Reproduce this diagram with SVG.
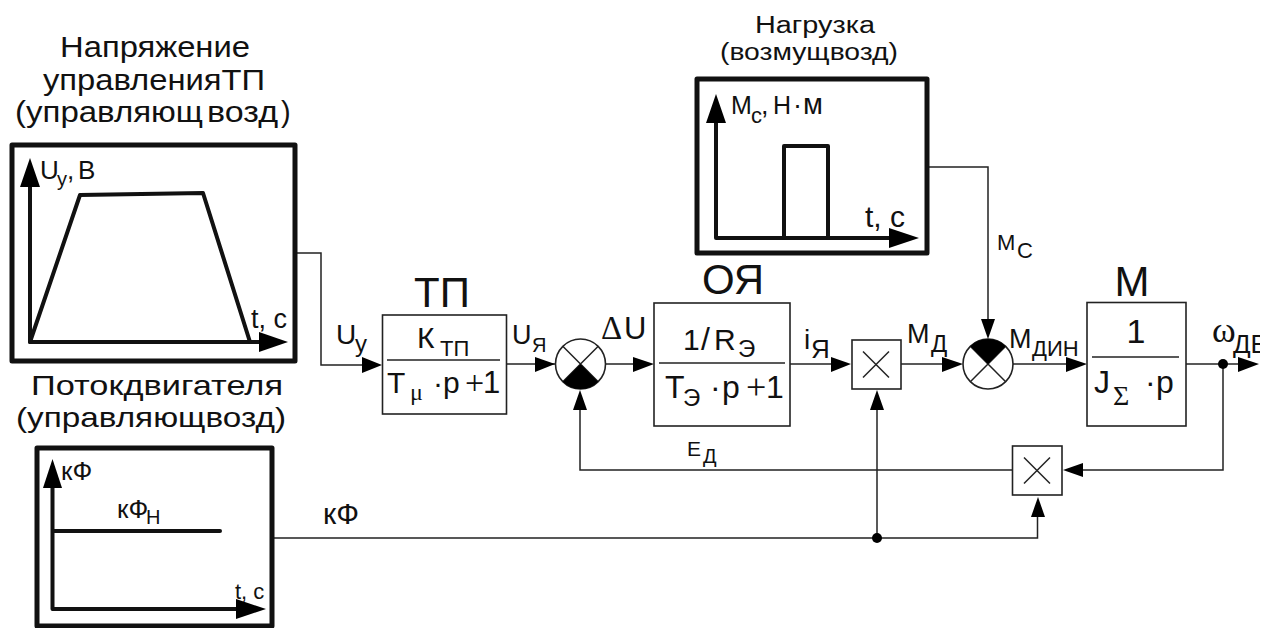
<svg xmlns="http://www.w3.org/2000/svg" width="1277" height="628" viewBox="0 0 1277 628">
<style>
text{font-family:"Liberation Sans",Arial,sans-serif;fill:#111}
.s{font-family:"Liberation Serif","Times New Roman",serif}
.m{text-anchor:middle}
.f{fill:none;stroke:#111;stroke-width:5;stroke-linejoin:round}
.g{fill:none;stroke:#111;stroke-width:4;stroke-linejoin:round;stroke-linecap:round}
.b{fill:#fff;stroke:#222;stroke-width:1.6}
.l{fill:none;stroke:#222;stroke-width:1.5}
.k{fill:#000;stroke:none}
</style>
<defs>
<clipPath id="edge"><rect x="0" y="0" width="1260" height="628"/></clipPath>
</defs>
<rect width="1277" height="628" fill="#fff"/>

<g id="connectors">
<path class="l" d="M297 253H321V365H364"/><polygon class="k" points="382,365 362,357 362,373"/>
<path class="l" d="M506 364H560"/><polygon class="k" points="555,364 535,357 535,372"/>
<path class="l" d="M605 364H636"/><polygon class="k" points="654,364 633,357 633,372"/>
<path class="l" d="M790 364H835"/><polygon class="k" points="851,364 831,357 831,372"/>
<path class="l" d="M901 364H945"/><polygon class="k" points="963,364 942,357 942,372"/>
<path class="l" d="M1013 364H1070"/><polygon class="k" points="1087,364 1066,357 1066,372"/>
<path class="l" d="M1186 364H1242"/><polygon class="k" points="1259,364 1238,357 1238,372"/>
<path class="l" d="M928 167H988V322"/><polygon class="k" points="988,339 981,319 995,319"/>
<path class="l" d="M1223 364V470H1080"/><polygon class="k" points="1063,470 1083,463 1083,477"/>
<path class="l" d="M1012 470H580V408"/><polygon class="k" points="580,390 573,410 587,410"/>
<path class="l" d="M273 538H1037.500V515"/><polygon class="k" points="1038,497 1031,517 1045,517"/>
<path class="l" d="M877 538V408"/><polygon class="k" points="877,390 870,410 884,410"/>
<circle class="k" cx="877" cy="538" r="5"/>
<circle class="k" cx="1223" cy="364" r="5"/>
</g>

<g id="voltage-plot">
<text x="60" y="57" font-size="29" textLength="190" lengthAdjust="spacingAndGlyphs">Напряжение</text>
<text x="43" y="90" font-size="29" textLength="222" lengthAdjust="spacingAndGlyphs">управленияТП</text>
<text x="15" y="122" font-size="29" textLength="188" lengthAdjust="spacingAndGlyphs">(управляющ</text><text x="207" y="122" font-size="29" textLength="71" lengthAdjust="spacingAndGlyphs">возд</text><text x="281" y="122" font-size="29">)</text>
<rect class="f" x="12" y="145" width="283" height="216"/>
<path class="g" d="M30 342V180M30 342H265"/>
<polygon class="k" points="30,158 20,187 40,187"/>
<polygon class="k" points="288,342 259,332 259,352"/>
<path class="g" d="M30 342L80 195L203 193L250 342"/>
<text x="40" y="179" font-size="26">U</text><text x="57" y="186" font-size="20">y</text><text x="67" y="179" font-size="26">,</text><text x="78" y="179" font-size="26">В</text>
<text x="251" y="328" font-size="27">t, c</text>
</g>

<g id="flux-plot">
<text x="31" y="395" font-size="28" textLength="252" lengthAdjust="spacingAndGlyphs">Потокдвигателя</text>
<text x="16" y="427" font-size="28" textLength="270" lengthAdjust="spacingAndGlyphs">(управляющвозд)</text>
<rect class="f" x="37" y="448" width="235" height="178"/>
<path class="g" d="M52.500 609V480M52.500 609H245"/>
<polygon class="k" points="52.500,459 43,488 62,488"/>
<polygon class="k" points="266,609 236,599 236,619"/>
<path class="g" d="M53 531H220"/>
<text x="61" y="480" font-size="26">кФ</text>
<text x="117" y="518" font-size="26">кФ</text><text x="146" y="524" font-size="20">Н</text>
<text x="235" y="599" font-size="22">t, c</text>
</g>

<g id="load-plot">
<text x="755" y="33" font-size="23" textLength="120" lengthAdjust="spacingAndGlyphs">Нагрузка</text>
<text x="720" y="60" font-size="23" textLength="178" lengthAdjust="spacingAndGlyphs">(возмущвозд)</text>
<rect class="f" x="697" y="79" width="230" height="174"/>
<path class="g" d="M716 238V120M716 238H895"/>
<polygon class="k" points="716,94 706,123 726,123"/>
<polygon class="k" points="919,238 889,228 889,248"/>
<path class="g" d="M784 238V146H828V238"/>
<text x="731" y="114" font-size="25">М</text><text x="751" y="123" font-size="22">с</text><text x="761" y="114" font-size="27">,</text><text x="773" y="114" font-size="25">Н</text><text x="793" y="114" font-size="27">·</text><text x="803" y="114" font-size="29">м</text>
<text x="865" y="227" font-size="30">t, c</text>
</g>

<g id="tp">
<text class="m" x="442" y="307" font-size="42">ТП</text>
<rect class="b" x="382.500" y="315" width="124" height="99"/>
<path class="l" d="M387 360H500"/>
<text x="417" y="348" font-size="30">К</text><text x="440" y="356" font-size="22">ТП</text>
<text x="387" y="393" font-size="30">Т</text><text class="s" x="410" y="400" font-size="24">μ</text>
<text x="433" y="393" font-size="30">·</text><text x="443" y="393" font-size="30">p</text><text class="s" x="465" y="394" font-size="34">+</text><text x="483" y="393" font-size="31">1</text>
</g>

<g id="sum1">
<circle class="b" cx="580.500" cy="364" r="25"/>
<path class="l" d="M562.800 346.300L598.200 381.700M598.200 346.300L562.800 381.700"/>
<path class="k" d="M580.500 364L562.800 381.700A25 25 0 0 0 598.200 381.700Z"/>
</g>

<g id="oya">
<text class="m" x="733" y="294" font-size="42">ОЯ</text>
<rect class="b" x="654" y="303" width="136" height="123"/>
<path class="l" d="M659 363H785"/>
<text x="683" y="350" font-size="30">1</text><text x="701" y="350" font-size="32">/</text><text x="714" y="350" font-size="30">R</text><text x="738" y="357" font-size="24">Э</text>
<text x="665" y="398" font-size="32">Т</text><text x="683" y="406" font-size="24">Э</text>
<text x="710" y="398" font-size="32">·</text><text x="722" y="398" font-size="32">p</text><text class="s" x="746" y="399" font-size="36">+</text><text x="766" y="398" font-size="32">1</text>
</g>

<g id="mult1">
<rect class="b" x="852" y="340" width="49" height="49"/>
<path class="l" d="M863 351.500L889 377.500M889 351.500L863 377.500"/>
</g>

<g id="sum2">
<circle class="b" cx="988" cy="364" r="25"/>
<path class="l" d="M970.300 346.300L1005.700 381.700M1005.700 346.300L970.300 381.700"/>
<path class="k" d="M988 364L970.300 346.300A25 25 0 0 1 1005.700 346.300Z"/>
</g>

<g id="m-block">
<text class="m" x="1132" y="296" font-size="42">М</text>
<rect class="b" x="1087" y="302.500" width="99" height="123.500"/>
<path class="l" d="M1092 357H1179"/>
<text class="m" x="1136" y="343" font-size="34">1</text>
<text x="1094" y="393" font-size="32">J</text><text class="s" x="1113" y="405" font-size="28">Σ</text>
<text x="1145" y="393" font-size="32">·</text><text x="1156" y="393" font-size="32">p</text>
</g>

<g id="mult2">
<rect class="b" x="1012.500" y="446" width="49.500" height="49"/>
<path class="l" d="M1024 457.500L1050 483.500M1050 457.500L1024 483.500"/>
</g>

<g id="labels">
<text x="336" y="344" font-size="28">U</text><text x="355" y="352" font-size="24">y</text>
<text x="512" y="344" font-size="27">U</text><text x="532" y="352" font-size="20">Я</text>
<text class="s" x="601" y="339" font-size="33">Δ</text><text x="624" y="339" font-size="31">U</text>
<text x="804" y="349" font-size="28">i</text><text x="811" y="358" font-size="26">Я</text>
<text x="687" y="456" font-size="21">Е</text><text x="703" y="463" font-size="20">Д</text>
<text x="907" y="343" font-size="27">М</text><text x="931" y="352" font-size="24">Д</text>
<text x="1009" y="348" font-size="27">М</text><text x="1032" y="356" font-size="22">ДИН</text>
<text x="997" y="250" font-size="22">М</text><text x="1017" y="258" font-size="22">С</text>
<text x="323" y="524" font-size="30">кФ</text>
<g clip-path="url(#edge)"><text class="s" x="1212" y="342" font-size="36">ω</text><text x="1233" y="353" font-size="26">ДВ</text></g>
</g>
</svg>
